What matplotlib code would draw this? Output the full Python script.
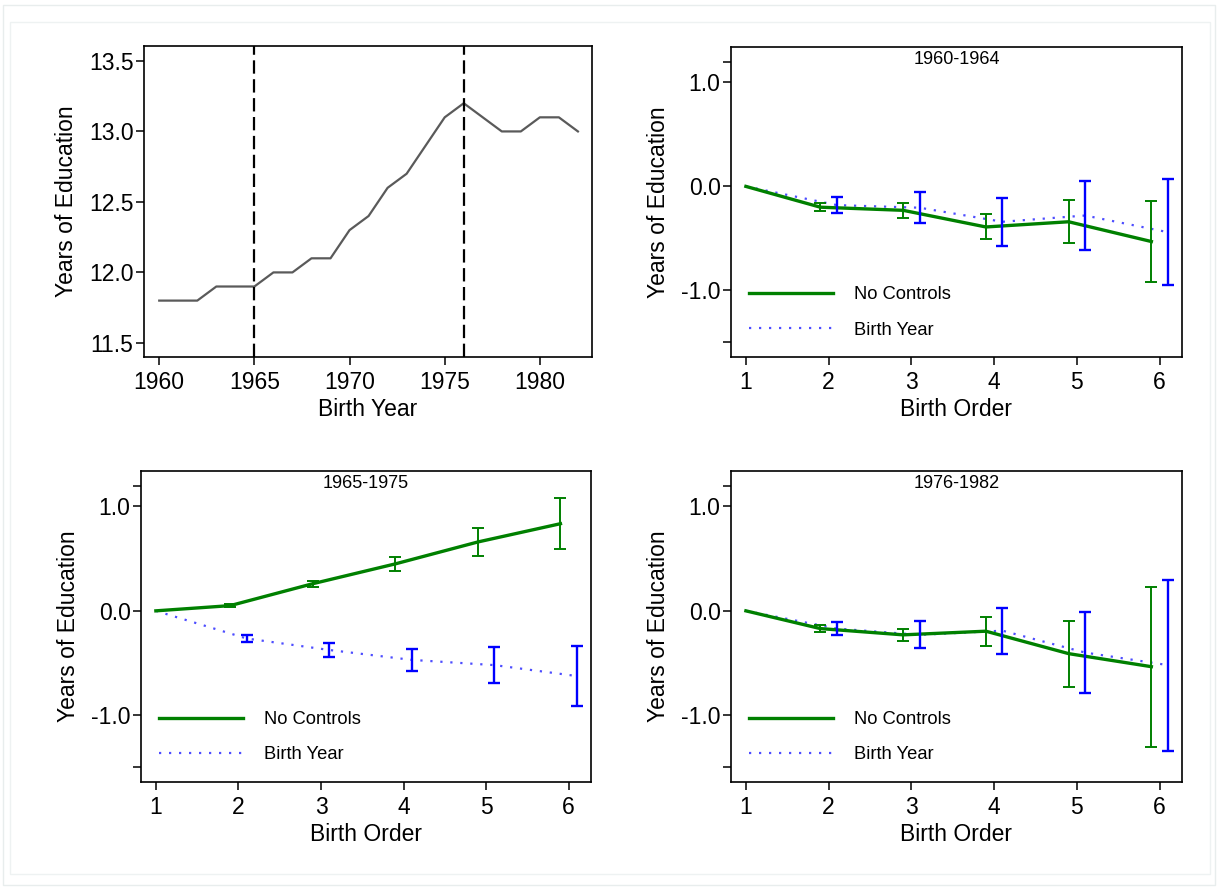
import matplotlib
matplotlib.use('Agg')
import matplotlib.pyplot as plt
from matplotlib.patches import Rectangle
from matplotlib.lines import Line2D
import numpy as np

plt.rcParams['font.family'] = ['Liberation Sans', 'DejaVu Sans']
plt.rcParams['axes.unicode_minus'] = False

# data: average years of education by birth year
birth_year = list(range(1960, 1983))
edu_years = [11.8, 11.8, 11.8, 11.9, 11.9, 11.9, 12.0, 12.0, 12.1, 12.1, 12.3, 12.4,
             12.6, 12.7, 12.9, 13.1, 13.2, 13.1, 13.0, 13.0, 13.1, 13.1, 13.0]
cutoffs = [1965, 1976]

# birth order effects (estimate, half-width of CI)
birth_order = np.array([1, 2, 3, 4, 5, 6])
cohorts = ['1960-1964', '1965-1975', '1976-1982']
no_controls = {
    '1960-1964': [0, -0.20, -0.23, -0.39, -0.34, -0.53],
    '1965-1975': [0, 0.05, 0.26, 0.45, 0.66, 0.835],
    '1976-1982': [0, -0.17, -0.23, -0.195, -0.41, -0.535],
}
no_controls_hw = {
    '1960-1964': [0, 0.036, 0.07, 0.12, 0.205, 0.39],
    '1965-1975': [0, 0.015, 0.03, 0.065, 0.13, 0.245],
    '1976-1982': [0, 0.03, 0.058, 0.14, 0.316, 0.767],
}
birth_year_ctrl = {
    '1960-1964': [0, -0.18, -0.205, -0.34, -0.28, -0.44],
    '1965-1975': [0, -0.265, -0.375, -0.47, -0.52, -0.625],
    '1976-1982': [0, -0.17, -0.23, -0.19, -0.40, -0.52],
}
birth_year_hw = {
    '1960-1964': [0, 0.08, 0.148, 0.23, 0.33, 0.51],
    '1965-1975': [0, 0.035, 0.064, 0.105, 0.17, 0.285],
    '1976-1982': [0, 0.066, 0.13, 0.22, 0.39, 0.82],
}

W, H = 1221, 888
fig = plt.figure(figsize=(W / 100, H / 100), dpi=100)

# faint frame around the graph
fig.patches.append(Rectangle((3 / W, 3 / H), 1212 / W, 880 / H, transform=fig.transFigure,
                             fill=False, edgecolor='#e8eded', lw=1))
fig.patches.append(Rectangle((10 / W, 14 / H), 1200 / W, 852 / H, transform=fig.transFigure,
                             fill=False, edgecolor='#eef2f2', lw=1))


def px_axes(x0, y0, x1, y1):
    return fig.add_axes([x0 / W, 1 - y1 / H, (x1 - x0) / W, (y1 - y0) / H])


def style(ax):
    for s in ax.spines.values():
        s.set_linewidth(1.2)
    ax.tick_params(direction='out', length=6, width=1.1, labelsize=16.5, pad=1.5)
    ax.tick_params(axis='x', pad=4)


GREEN = '#008000'
BLUE = '#0000ff'

# --- panel 1: education by birth year ---
ax = px_axes(144, 46, 592, 357)
ax.plot(birth_year, edu_years, color='#5a5a5a', lw=1.6)
for c in cutoffs:
    ax.axvline(c, color='black', lw=1.6, linestyle=(0, (6, 2.5)))
ax.set_xlim(1959.2, 1982.74)
ax.set_ylim(11.40, 13.606)
ax.set_xticks([1960, 1965, 1970, 1975, 1980])
ax.set_yticks([11.5, 12.0, 12.5, 13.0, 13.5])
ax.set_yticklabels(['11.5', '12.0', '12.5', '13.0', '13.5'])
ax.set_xlabel('Birth Year', fontsize=16.5, labelpad=3)
ax.set_ylabel('Years of Education', fontsize=16.5, labelpad=8)
style(ax)

# --- birth order panels ---
boxes = {
    '1960-1964': (731, 47, 1182, 357),
    '1965-1975': (141, 471, 591, 782),
    '1976-1982': (731, 471, 1182, 782),
}

for coh in cohorts:
    x0, y0, x1, y1 = boxes[coh]
    ax = px_axes(x0, y0, x1, y1)
    xg = np.where(birth_order == 1, birth_order, birth_order - 0.1)
    xb = np.where(birth_order == 1, birth_order, birth_order + 0.1)
    ax.plot(xb, birth_year_ctrl[coh], color='#4d4dff', lw=1.6,
            linestyle=(0, (1, 3.5)), zorder=2)
    ax.plot(xg, no_controls[coh], color=GREEN, lw=2.4, zorder=3)
    ax.errorbar(xg[1:], no_controls[coh][1:], yerr=no_controls_hw[coh][1:], fmt='none',
                ecolor=GREEN, elinewidth=1.4, capsize=4.3, capthick=1.4, zorder=4)
    ax.errorbar(xb[1:], birth_year_ctrl[coh][1:], yerr=birth_year_hw[coh][1:], fmt='none',
                ecolor=BLUE, elinewidth=1.7, capsize=4.0, capthick=1.7, zorder=4)
    ax.set_xlim(0.82, 6.27)
    ax.set_ylim(-1.64, 1.34)
    ax.set_xticks(birth_order)
    ax.set_yticks([-1.5, -1.0, 0.0, 1.0, 1.2])
    ax.set_yticklabels(['', '-1.0', '0.0', '1.0', ''])
    ax.set_xlabel('Birth Order', fontsize=16.5, labelpad=3)
    ax.set_ylabel('Years of Education', fontsize=16.5, labelpad=8)
    ax.text(0.5, 1 - 12 / (y1 - y0), coh, transform=ax.transAxes, ha='center',
            va='center', fontsize=13)
    handles = [Line2D([], [], color=GREEN, lw=2.4),
               Line2D([], [], color='#4d4dff', lw=1.6, linestyle=(0, (1, 3.5)))]
    ax.legend(handles, ['No Controls', 'Birth Year'], loc='upper left',
              bbox_to_anchor=(0.04, 0.228), frameon=False, fontsize=13.2,
              handlelength=4.6, handletextpad=1.1, labelspacing=1.0, borderpad=0,
              borderaxespad=0)
    style(ax)

fig.savefig('out.png', dpi=100)
